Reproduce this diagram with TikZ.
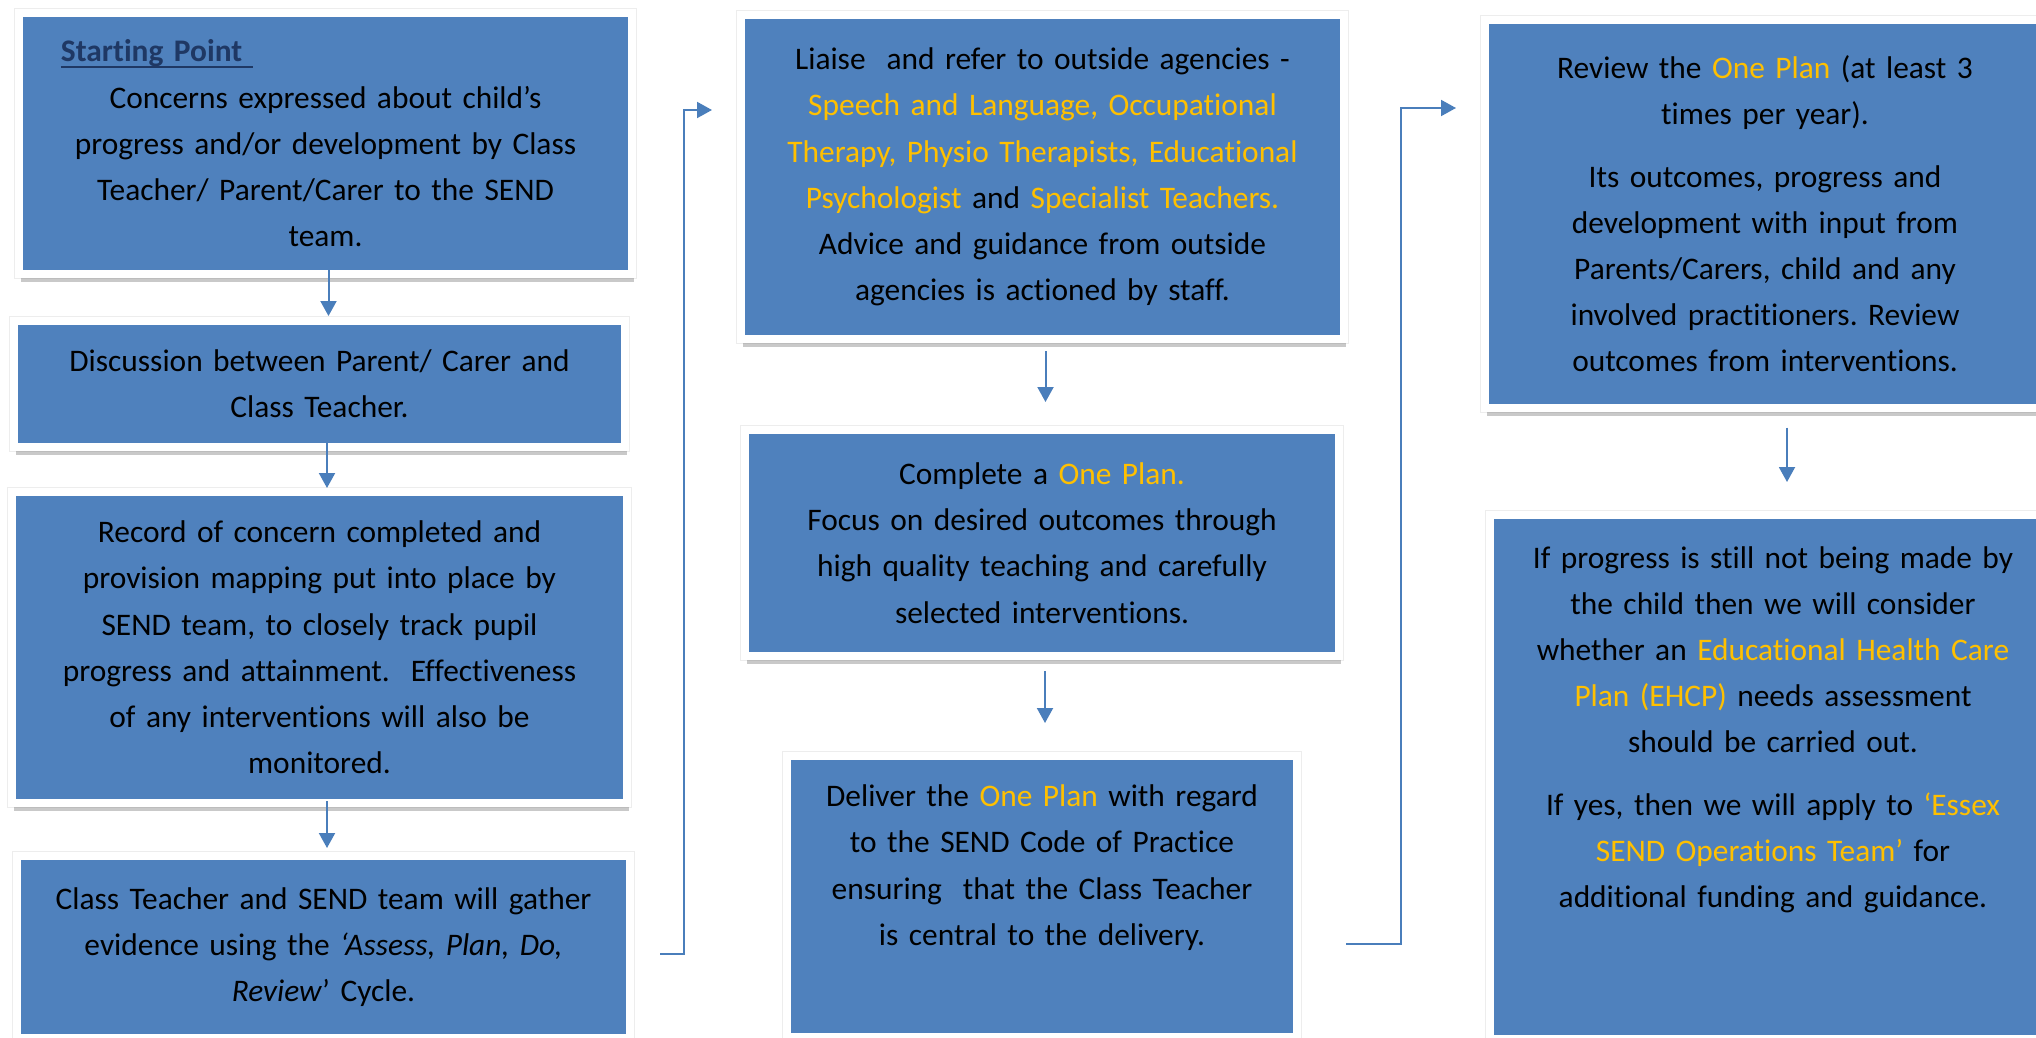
\documentclass[tikz,border=0pt]{standalone}
\usepackage{fontspec}
\setmainfont{Carlito}[Ligatures=NoCommon]
\usepackage{xcolor}
\usetikzlibrary{arrows.meta,shadows}
\definecolor{sendblue}{HTML}{4F81BD}
\definecolor{linkblue}{HTML}{4A7EBB}
\definecolor{planyellow}{HTML}{FFC000}
\definecolor{headnavy}{HTML}{1F3864}
\newcommand{\hl}[1]{\textcolor{planyellow}{#1}}
\newcommand{\headline}[1]{\textcolor{headnavy}{\setbox0\hbox{\textbf{#1}\ }\rlap{\rule[-3.2pt]{\wd0}{1.2pt}}\box0}}
\frenchspacing
\tikzset{
  stagebox/.style={rectangle, draw=white, fill=sendblue, line width=4pt, inner sep=0pt, outer sep=0pt,
                   align=center, font=\fontsize{15.7}{23.1}\selectfont,
                   preaction={draw=black!7, line width=5pt},
                   drop shadow={shadow xshift=1.2pt, shadow yshift=-4pt, opacity=0.3, fill=black!70}},
  flow/.style={-{Triangle[length=7.5pt,width=8pt]}, line width=1pt, draw=linkblue},
}

\begin{document}
\begin{tikzpicture}[x=0.5pt, y=-0.5pt]
  \clip (0,0) rectangle (2036,1038);

  % left column
  \node[stagebox, minimum width=306.5pt, minimum height=130.5pt, text width=302.5pt] (stage1) at (325.5,143.5)
    {\makebox[\linewidth][l]{\hspace*{19pt}\headline{Starting Point}}\\
     Concerns expressed about child’s\\ progress and/or development by Class\\
     Teacher/ Parent/Carer to the SEND\\ team.};
  \node[stagebox, minimum width=305.5pt, minimum height=63pt, text width=301.5pt] (stage2) at (319.5,384)
    {Discussion between Parent/ Carer and\\ Class Teacher.};
  \node[stagebox, minimum width=307.5pt, minimum height=155.5pt, text width=303.5pt] (stage3) at (319.5,647.5)
    {Record of concern completed and\\ provision mapping put into place by\\
     SEND team, to closely track pupil\\ progress and attainment.~ Effectiveness\\
     of any interventions will also be\\ monitored.};
  \node[stagebox, minimum width=306.5pt, minimum height=91pt, text width=302.5pt] (stage4) at (323.5,947)
    {Class Teacher and SEND team will gather\\ evidence using the \textit{‘Assess, Plan, Do,}\\
     \textit{Review}’ Cycle.};

  % middle column
  \node[stagebox, minimum width=301.5pt, minimum height=162pt, text width=297.5pt] (stage5) at (1042.5,177)
    {Liaise~ and refer to outside agencies -\\ \hl{Speech and Language, Occupational}\\
     \hl{Therapy, Physio Therapists, Educational}\\ \hl{Psychologist} and \hl{Specialist Teachers.}\\
     Advice and guidance from outside\\ agencies is actioned by staff.};
  \node[stagebox, minimum width=297pt, minimum height=113pt, text width=293pt] (stage6) at (1042,543)
    {Complete a \hl{One Plan.}\\ Focus on desired outcomes through\\
     high quality teaching and carefully\\ selected interventions.};
  \node[stagebox, minimum width=255pt, minimum height=140.5pt, text width=251pt] (stage7) at (1042,896.5)
    {Deliver the \hl{One Plan} with regard\\ to the SEND Code of Practice\\
     ensuring~ that the Class Teacher\\ is central to the delivery.\\[8.4pt]\mbox{}};

  % right column
  \node[stagebox, minimum width=280pt, minimum height=193.5pt, text width=276pt] (stage8) at (1765,214)
    {Review the \hl{One Plan} (at least 3\\ times per year).\\[8pt]
     Its outcomes, progress and\\ development with input from\\
     Parents/Carers, child and any\\ involved practitioners. Review\\ outcomes from interventions.};
  \node[stagebox, minimum width=283pt, minimum height=262pt, text width=279pt] (stage9) at (1773,777)
    {If progress is still not being made by\\ the child then we will consider\\
     whether an \hl{Educational Health Care}\\ \hl{Plan (EHCP)} needs assessment\\
     should be carried out.\\[8pt]
     If yes, then we will apply to \hl{‘Essex}\\ \hl{SEND Operations Team’} for\\
     additional funding and guidance.\\[27pt]\mbox{}};

  % arrows down each column
  \draw[flow, shorten <=-2pt, shorten >=2.5pt] ([xshift=1.5pt]stage1.south) -- ([xshift=1.5pt]stage1.south |- stage2.north);
  \draw[flow, shorten <=-2pt, shorten >=2pt] ([xshift=3.75pt]stage2.south) -- ([xshift=3.75pt]stage2.south |- stage3.north);
  \draw[flow, shorten <=-1pt, shorten >=4pt] ([xshift=3.75pt]stage3.south) -- ([xshift=3.75pt]stage3.south |- stage4.north);
  \draw[flow, shorten <=6pt, shorten >=14pt] ([xshift=1.5pt]stage5.south) -- ([xshift=1.5pt]stage5.south |- stage6.north);
  \draw[flow, shorten <=7.5pt, shorten >=16.5pt] ([xshift=1.5pt]stage6.south) -- ([xshift=1.5pt]stage6.south |- stage7.north);
  \draw[flow, shorten <=10pt, shorten >=16.5pt] ([xshift=11pt]stage8.south) -- ([xshift=11pt]stage8.south |- stage9.north);

  % links between columns
  \coordinate (bend1) at (684,110);
  \coordinate (bend2) at (1401,108);
  \draw[flow, shorten <=15pt, shorten >=14.5pt] ([yshift=-3.5pt]stage4.east) -| (bend1) -- (stage5.west |- bend1);
  \draw[flow, shorten <=24.5pt, shorten >=14.5pt] ([yshift=-23.75pt]stage7.east) -| (bend2) -- (stage8.west |- bend2);
\end{tikzpicture}
\end{document}
